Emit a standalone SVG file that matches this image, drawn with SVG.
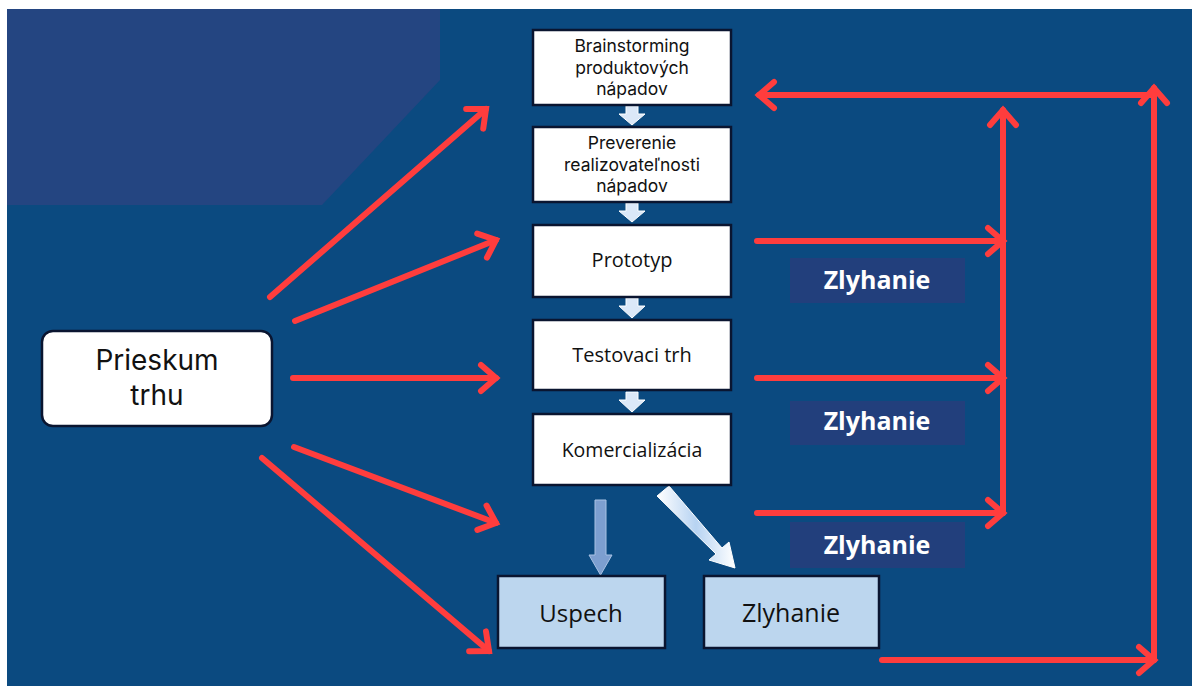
<svg xmlns="http://www.w3.org/2000/svg" width="1192" height="686" viewBox="0 0 1192 686">
<defs>
<style>
.box{fill:#ffffff;stroke:#0a1530;stroke-width:2.5}
.lbox{fill:#bcd6ee;stroke:#0a1530;stroke-width:2.5}
.t{font-family:"Open Sans","Noto Sans",sans-serif;fill:#111;text-anchor:middle}
.t3{font-family:Inter,"Open Sans",sans-serif;fill:#111;text-anchor:middle;font-size:17.5px}
.lab{fill:#223f7c}
.labt{font-family:"Open Sans","Noto Sans",sans-serif;font-weight:bold;fill:#ffffff;text-anchor:middle;font-size:25px}
.red{fill:none;stroke:#ff3d3d;stroke-width:6;stroke-linecap:round;marker-end:url(#ah)}
.sm{fill:#dbe8f8;stroke:#ffffff;stroke-width:1}
</style>
<marker id="ah" markerUnits="userSpaceOnUse" markerWidth="40" markerHeight="40" refX="20" refY="20" orient="auto" overflow="visible">
<path d="M5,7 L20,20 L5,33" fill="none" stroke="#ff3d3d" stroke-width="6" stroke-linecap="round" stroke-linejoin="miter"/>
</marker>
<linearGradient id="sg" x1="0" y1="0" x2="1" y2="0">
<stop offset="0" stop-color="#ffffff"/>
<stop offset="0.5" stop-color="#b7d3f2"/>
<stop offset="1" stop-color="#ffffff"/>
</linearGradient>
</defs>
<rect x="0" y="0" width="1192" height="686" fill="#ffffff"/>
<rect x="7" y="9" width="1185" height="677" fill="#0b4a80"/>
<path d="M7,9 L440,9 L440,80 L322,205 L7,205 Z" fill="#244581"/>

<g id="connectors">
<line class="red" x1="270" y1="297" x2="486" y2="109"/>
<line class="red" x1="295" y1="321" x2="496" y2="240"/>
<line class="red" x1="293" y1="378" x2="496" y2="378"/>
<line class="red" x1="294" y1="447" x2="496" y2="523"/>
<line class="red" x1="262" y1="458" x2="489" y2="651"/>
<line class="red" x1="757" y1="241" x2="1003" y2="241"/>
<line class="red" x1="757" y1="378" x2="1003" y2="378"/>
<line class="red" x1="757" y1="513" x2="1003" y2="513"/>
<line class="red" x1="1003" y1="513" x2="1003" y2="110"/>
<line class="red" x1="882" y1="660" x2="1154" y2="660"/>
<line class="red" x1="1154" y1="660" x2="1154" y2="88"/>
<line class="red" x1="1154" y1="95" x2="759" y2="95"/>
<path class="sm" d="M626,106 L638,106 L638,114 L645,114 L632,125 L619,114 L626,114 Z"/>
<path class="sm" d="M626,203 L638,203 L638,211 L645,211 L632,222 L619,211 L626,211 Z"/>
<path class="sm" d="M626,298 L638,298 L638,306 L645,306 L632,318 L619,306 L626,306 Z"/>
<path class="sm" d="M626,392 L638,392 L638,400 L645,400 L632,412 L619,400 L626,400 Z"/>
<path d="M595,500 L606,500 L606,555 L612,555 L600.5,575 L589,555 L595,555 Z" fill="#7d9fd0" stroke="#a9c2e4" stroke-width="1"/>
<path d="M657,496 L669,486 L722,548 L729,542 L735,568 L709,560 L716,554 Z" fill="url(#sg)" stroke="#ffffff" stroke-width="1"/>
</g>

<g id="n-brainstorming">
<rect class="box" x="533" y="30" width="198" height="75"/>
<text class="t3" x="632" y="52.3"><tspan x="632">Brainstorming</tspan><tspan x="632" dy="21.5">produktových</tspan><tspan x="632" dy="21.5">nápadov</tspan></text>
</g>
<g id="n-preverenie">
<rect class="box" x="533" y="127" width="198" height="75"/>
<text class="t3" x="632" y="149.3"><tspan x="632">Preverenie</tspan><tspan x="632" dy="21.5">realizovateľnosti</tspan><tspan x="632" dy="21.5">nápadov</tspan></text>
</g>
<g id="n-prototyp">
<rect class="box" x="533" y="225" width="198" height="72"/>
<text class="t" font-size="20" x="632" y="267">Prototyp</text>
</g>
<g id="n-testovaci">
<rect class="box" x="533" y="320" width="198" height="70"/>
<text class="t" font-size="20" x="632" y="362">Testovaci trh</text>
</g>
<g id="n-komercializacia">
<rect class="box" x="533" y="414" width="198" height="71"/>
<text class="t" font-size="19.5" x="632" y="457">Komercializácia</text>
</g>
<g id="n-prieskum">
<rect class="box" x="42" y="331" width="230" height="95" rx="11"/>
<text font-family="Inter, 'Open Sans', sans-serif" fill="#111" text-anchor="middle" font-size="28" x="157" y="370"><tspan x="157">Prieskum</tspan><tspan x="157" dy="34.5">trhu</tspan></text>
</g>
<g id="n-uspech">
<rect class="lbox" x="498" y="576" width="167" height="72"/>
<text class="t" font-size="24" x="581" y="622">Uspech</text>
</g>
<g id="n-zlyhanie">
<rect class="lbox" x="704" y="576" width="175" height="72"/>
<text class="t" font-size="25" x="791" y="622">Zlyhanie</text>
</g>
<g id="l-zlyhanie1">
<rect class="lab" x="790" y="258" width="175" height="45"/>
<text class="labt" x="877" y="289">Zlyhanie</text>
</g>
<g id="l-zlyhanie2">
<rect class="lab" x="790" y="401" width="175" height="44"/>
<text class="labt" x="877" y="430">Zlyhanie</text>
</g>
<g id="l-zlyhanie3">
<rect class="lab" x="790" y="522" width="175" height="46"/>
<text class="labt" x="877" y="554">Zlyhanie</text>
</g>
</svg>
